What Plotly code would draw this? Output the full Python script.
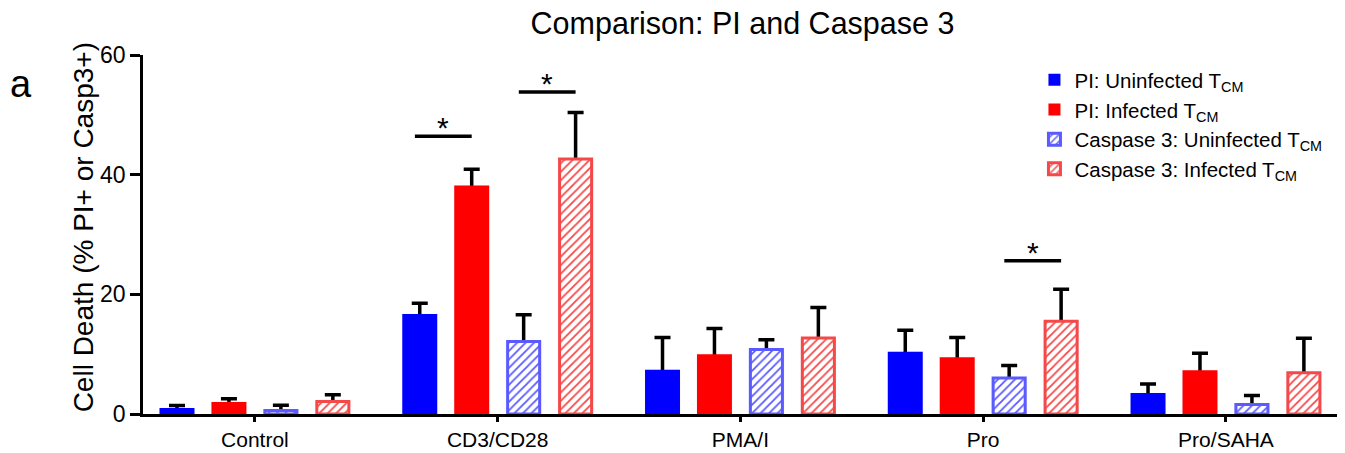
import plotly.graph_objects as go

categories = ["Control", "CD3/CD28", "PMA/I", "Pro", "Pro/SAHA"]
series_names = ["PI: Uninfected T<sub>CM</sub>", "PI: Infected T<sub>CM</sub>",
                "Caspase 3: Uninfected T<sub>CM</sub>", "Caspase 3: Infected T<sub>CM</sub>"]
pi_uninf = [1.0, 16.7, 7.4, 10.4, 3.5]
pi_uninf_err = [0.4, 1.8, 5.4, 3.6, 1.5]
pi_inf = [2.0, 38.2, 10.0, 9.5, 7.3]
pi_inf_err = [0.55, 2.7, 4.3, 3.3, 2.85]
casp_uninf = [0.6, 12.1, 10.8, 6.0, 1.6]
casp_uninf_err = [0.85, 4.5, 1.6, 2.1, 1.5]
casp_inf = [2.1, 42.6, 12.7, 15.5, 6.9]
casp_inf_err = [1.1, 7.8, 5.1, 5.35, 5.75]
yticks = [0, 20, 40, 60]
# significance: (category index, series a, series b, bar height level)
sig_cat = [1, 1, 3]
sig_a = [0, 2, 2]
sig_b = [1, 3, 3]
sig_level = [46.4, 53.8, 25.6]

values = [pi_uninf, pi_inf, casp_uninf, casp_inf]
errors = [pi_uninf_err, pi_inf_err, casp_uninf_err, casp_inf_err]
offsets = [-0.321, -0.107, 0.107, 0.321]
bar_w = 0.144
solid_colors = ["#0000ff", "#ff0000"]
hatch_colors = ["#5a5aff", "#f54848"]
FONT = "Arial, Liberation Sans, Helvetica, sans-serif"

fig = go.Figure()

# error bars (drawn beneath the bars so the lower cap is hidden)
ex, ey, ea, em = [], [], [], []
for s in range(4):
    for i in range(len(categories)):
        ex.append(i + offsets[s])
        ey.append(values[s][i])
        ea.append(errors[s][i])
        em.append(0.45)
fig.add_trace(go.Bar(x=ex, y=ey, width=bar_w, marker=dict(color="rgba(0,0,0,0)"),
                     error_y=dict(type="data", symmetric=False, array=ea, arrayminus=em,
                                  color="black", thickness=3.5, width=8),
                     showlegend=False, hoverinfo="skip"))

for s in range(4):
    xs = [i + offsets[s] for i in range(len(categories))]
    if s < 2:
        marker = dict(color=solid_colors[s], line=dict(width=0))
        w = bar_w
    else:
        c = hatch_colors[s - 2]
        marker = dict(color=c, line=dict(color=c, width=3),
                      pattern=dict(shape="/", fgcolor=c, bgcolor="white",
                                   size=6, solidity=0.3, fillmode="replace"))
        w = bar_w - 0.012
    fig.add_trace(go.Bar(x=xs, y=values[s], width=w, name=series_names[s], marker=marker,
                         legendgroup=str(s)))

shapes = []
annotations = []
for k in range(len(sig_cat)):
    x0 = sig_cat[k] + offsets[sig_a[k]] - 0.02
    x1 = sig_cat[k] + offsets[sig_b[k]]
    shapes.append(dict(type="line", xref="x", yref="y", x0=x0, x1=x1,
                       y0=sig_level[k], y1=sig_level[k], line=dict(color="black", width=3.5)))
    annotations.append(dict(x=(x0 + x1) / 2, y=sig_level[k], xref="x", yref="y", text="*",
                            showarrow=False, yanchor="bottom", yshift=-10,
                            font=dict(size=30, color="black", family=FONT)))

annotations.append(dict(x=-0.1018, y=0.92, xref="paper", yref="paper", text="a",
                        showarrow=False, xanchor="center", yanchor="middle",
                        font=dict(size=38, color="black", family=FONT)))
annotations.append(dict(x=-0.05, y=0.52, xref="paper", yref="paper",
                        text="Cell Death (% PI+ or Casp3+)", textangle=-90,
                        showarrow=False, xanchor="center", yanchor="middle",
                        font=dict(size=28, color="black", family=FONT)))

fig.update_layout(
    width=1337, height=445,
    margin=dict(l=135, r=3, t=47, b=39),
    plot_bgcolor="white", paper_bgcolor="white",
    barmode="overlay",
    font=dict(family=FONT, color="black"),
    title=dict(text="Comparison: PI and Caspase 3", x=0.5, xref="paper", xanchor="center",
               y=0.966, yref="container", yanchor="middle",
               font=dict(size=30.5, color="black", family=FONT)),
    xaxis=dict(range=[-0.461, 4.478], tickvals=list(range(len(categories))), ticktext=categories,
               showline=True, linecolor="black", linewidth=2.5, ticks="outside", ticklen=5,
               tickwidth=2.5, tickcolor="black", showgrid=False, zeroline=False,
               automargin=False,
               tickfont=dict(size=21, color="black", family=FONT)),
    yaxis=dict(range=[0, 60], tickvals=yticks, showline=True, linecolor="black", linewidth=2.5,
               mirror=True, ticks="outside", ticklen=10, tickwidth=2.5, tickcolor="black",
               showgrid=False, zeroline=False, automargin=False,
               tickfont=dict(size=23, color="black", family=FONT)),
    legend=dict(x=0.7435, y=0.986, xanchor="left", yanchor="top", bgcolor="rgba(0,0,0,0)",
                font=dict(size=20.5, color="black", family=FONT), tracegroupgap=0,
                traceorder="grouped"),
    shapes=shapes, annotations=annotations,
)

fig.write_html("out.html")
